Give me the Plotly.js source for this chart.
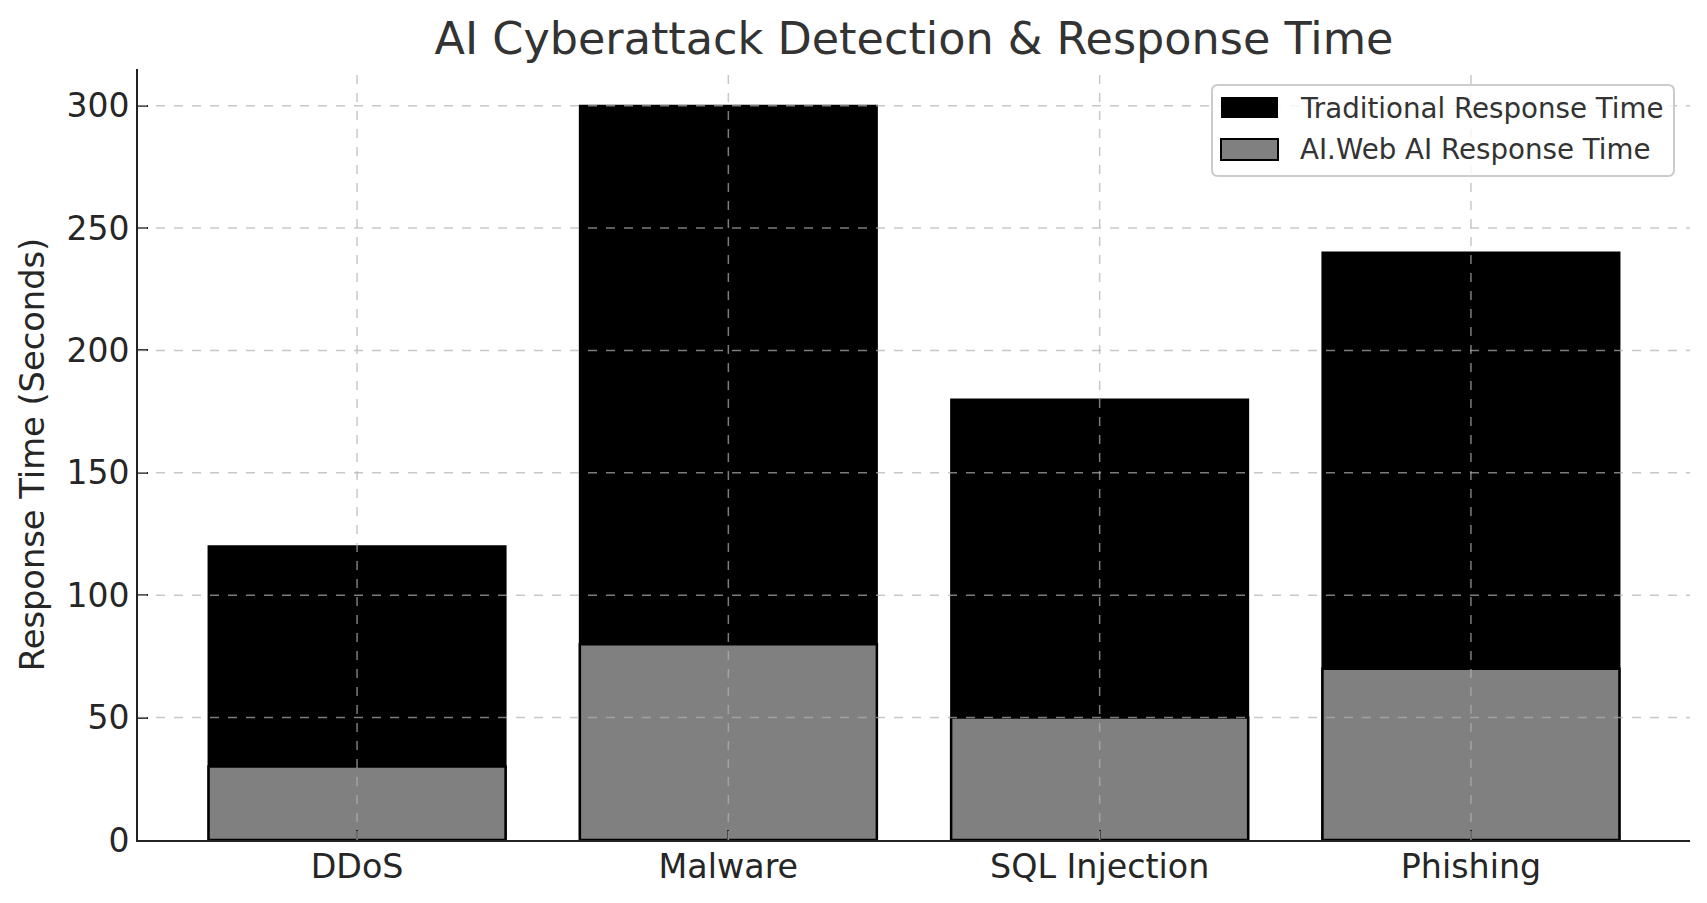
<!DOCTYPE html>
<html>
<head>
<meta charset="utf-8">
<script src="https://cdn.plot.ly/plotly-3.0.1.min.js"></script>
<style>
html, body { margin: 0; padding: 0; background: #fff; }
#chart { width: 1707px; height: 903px; }
</style>
</head>
<body>
<div id="chart"></div>
<script>
var categories = ["DDoS", "Malware", "SQL Injection", "Phishing"];
var traditionalTimes = [120, 300, 180, 240];
var aiWebTimes = [30, 80, 50, 70];
var yTicks = [0, 50, 100, 150, 200, 250, 300];
var seriesNames = ["Traditional Response Time", "AI.Web AI Response Time"];
var seriesColors = ["#000000", "#808080"];

var FONT = "DejaVu Sans, sans-serif";
var gridColor = "rgba(176,176,176,0.7)";

// plot-area geometry (pixels) used to place the hand-built legend
var W = 1707, H = 903;
var M = { l: 138, r: 17, t: 69, b: 63 };
var PW = W - M.l - M.r, PH = H - M.t - M.b;
function px(x) { return (x - M.l) / PW; }
function py(y) { return (H - M.b - y) / PH; }

var traces = [
  {
    type: "bar",
    name: seriesNames[0],
    x: categories,
    y: traditionalTimes,
    width: 0.8,
    marker: { color: seriesColors[0], line: { color: "#000000", width: 2 } },
    showlegend: false,
    hoverinfo: "x+y"
  },
  {
    type: "bar",
    name: seriesNames[1],
    x: categories,
    y: aiWebTimes,
    width: 0.8,
    marker: { color: seriesColors[1], line: { color: "#000000", width: 2.5 } },
    showlegend: false,
    hoverinfo: "x+y"
  }
];

var shapes = [];
// grid lines drawn above the bars (as in the reference)
yTicks.forEach(function (v) {
  if (v === 0) return;
  shapes.push({ type: "line", layer: "above", xref: "paper", yref: "y",
    x0: 0, x1: 1, y0: v, y1: v,
    line: { color: gridColor, width: 1.5, dash: "dash" } });
});
categories.forEach(function (c) {
  shapes.push({ type: "line", layer: "above", xref: "x", yref: "paper",
    x0: c, x1: c, y0: 0, y1: 1,
    line: { color: gridColor, width: 1.5, dash: "dash" } });
});

// legend box (rounded)
var bx0 = px(1212), bx1 = px(1674), by0 = py(176), by1 = py(85);
var rx = 6 / PW, ry = 6 / PH;
shapes.push({
  type: "path", layer: "above", xref: "paper", yref: "paper",
  path: "M" + (bx0 + rx) + "," + by1 +
        " L" + (bx1 - rx) + "," + by1 +
        " Q" + bx1 + "," + by1 + " " + bx1 + "," + (by1 - ry) +
        " L" + bx1 + "," + (by0 + ry) +
        " Q" + bx1 + "," + by0 + " " + (bx1 - rx) + "," + by0 +
        " L" + (bx0 + rx) + "," + by0 +
        " Q" + bx0 + "," + by0 + " " + bx0 + "," + (by0 + ry) +
        " L" + bx0 + "," + (by1 - ry) +
        " Q" + bx0 + "," + by1 + " " + (bx0 + rx) + "," + by1 + " Z",
  fillcolor: "rgba(255,255,255,0.8)",
  line: { color: "#cccccc", width: 2 }
});

var annotations = [];
var rowTop = [97, 139];
seriesNames.forEach(function (name, i) {
  shapes.push({ type: "rect", layer: "above", xref: "paper", yref: "paper",
    x0: px(1221), x1: px(1278), y0: py(rowTop[i] + 21), y1: py(rowTop[i]),
    fillcolor: seriesColors[i],
    line: { color: "#000000", width: i === 0 ? 0 : 2 } });
  annotations.push({ xref: "paper", yref: "paper",
    x: px(1298), y: py(rowTop[i] + 11), xanchor: "left", yanchor: "middle",
    text: name, showarrow: false,
    font: { family: FONT, size: 27.7, color: "#333333" } });
});

var layout = {
  width: W,
  height: H,
  paper_bgcolor: "#ffffff",
  plot_bgcolor: "#ffffff",
  barmode: "overlay",
  margin: { l: M.l, r: M.r, t: M.t, b: M.b, pad: 0 },
  font: { family: FONT, color: "#262626" },
  title: {
    text: "AI Cyberattack Detection &amp; Response Time",
    font: { family: FONT, size: 44.5, color: "#333333" },
    x: 0.5, xref: "paper", xanchor: "center",
    y: 0.958, yref: "container", yanchor: "middle"
  },
  xaxis: {
    type: "category",
    range: [-0.59, 3.59],
    showline: true, linecolor: "#222222", linewidth: 2,
    ticks: "inside", ticklen: 10, tickwidth: 2, tickcolor: "#222222",
    tickfont: { family: FONT, size: 33.3, color: "#262626" },
    ticklabelstandoff: -4,
    showgrid: false,
    zeroline: false,
    layer: "above traces"
  },
  yaxis: {
    range: [0, 315],
    tickvals: yTicks,
    ticktext: yTicks.map(String),
    showline: true, linecolor: "#222222", linewidth: 2,
    ticks: "inside", ticklen: 10, tickwidth: 2, tickcolor: "#222222",
    tickfont: { family: FONT, size: 33, color: "#262626" },
    showgrid: false,
    zeroline: false,
    layer: "above traces",
    title: { text: "Response Time (Seconds)", font: { family: FONT, size: 33.7, color: "#262626" }, standoff: 12 }
  },
  shapes: shapes,
  annotations: annotations,
  showlegend: false
};

Plotly.newPlot("chart", traces, layout, { displayModeBar: false, responsive: false });
</script>
</body>
</html>
